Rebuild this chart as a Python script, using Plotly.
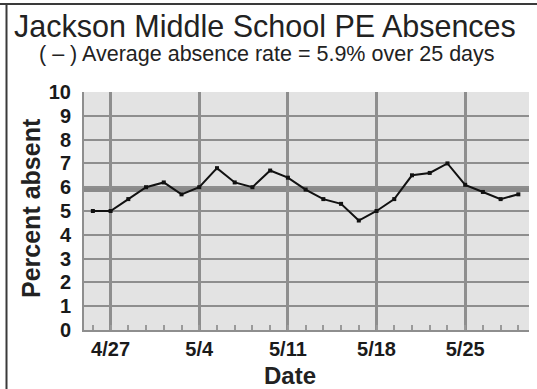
import plotly.graph_objects as go

# School days (Mon-Fri) covered by the survey
dates = ["4/24", "4/27", "4/28", "4/29", "4/30", "5/1",
         "5/4", "5/5", "5/6", "5/7", "5/8",
         "5/11", "5/12", "5/13", "5/14", "5/15",
         "5/18", "5/19", "5/20", "5/21", "5/22",
         "5/25", "5/26", "5/27", "5/28"]
absent_pct = [5.0, 5.0, 5.5, 6.0, 6.2, 5.7,
              6.0, 6.8, 6.2, 6.0, 6.7,
              6.4, 5.9, 5.5, 5.3, 4.6,
              5.0, 5.5, 6.5, 6.6, 7.0,
              6.1, 5.8, 5.5, 5.7]
week_labels = ["4/27", "5/4", "5/11", "5/18", "5/25"]
avg_rate = 5.9
n_days = len(dates)

x_idx = list(range(n_days))
week_idx = [dates.index(d) for d in week_labels]

W, H = 537, 389
ML, MR, MT, MB = 84, 8, 92, 59
pw, ph = W - ML - MR, H - MT - MB


def px(x):
    return (x - ML) / pw


def py(y):
    return (H - MB - y) / ph


fig = go.Figure()
fig.add_trace(go.Scatter(
    x=x_idx, y=absent_pct, mode="lines+markers",
    line=dict(color="#111111", width=2),
    marker=dict(symbol="square", size=4, color="#111111"),
    hoverinfo="skip", showlegend=False,
))

grid = "#8e8e8e"
tick_font = dict(family="Liberation Sans, Arial", size=20, color="#1a1a1a", weight="bold")

fig.update_layout(
    width=W, height=H,
    margin=dict(l=ML, r=MR, t=MT, b=MB),
    paper_bgcolor="white",
    plot_bgcolor="#e3e3e3",
    xaxis=dict(
        range=[-0.5, 24.6],
        tickmode="array", tickvals=week_idx, ticktext=week_labels,
        showgrid=True, gridcolor=grid, gridwidth=2.5,
        zeroline=False, showline=True, linecolor=grid, linewidth=2,
        ticks="", ticklabelstandoff=0,
        tickfont=tick_font,
        minor=dict(tickmode="linear", tick0=0, dtick=1, ticks="inside",
                   ticklen=5, tickwidth=1.5, tickcolor="#9a9a9a", showgrid=False),
    ),
    yaxis=dict(
        range=[0, 10], dtick=1,
        showgrid=True, gridcolor=grid, gridwidth=2,
        zeroline=False, showline=True, linecolor=grid, linewidth=2,
        ticks="", ticklabelstandoff=7,
        tickfont=tick_font,
    ),
    font=dict(family="Liberation Sans, Arial", color="#1a1a1a"),
)

# Average absence rate band
fig.add_shape(type="line", xref="paper", yref="y", x0=0, x1=1,
              y0=avg_rate, y1=avg_rate, layer="between",
              line=dict(color="#8a8a8a", width=5))

# Frame along the top and left edges
fig.add_shape(type="line", xref="paper", yref="paper",
              x0=px(-5), x1=px(W + 5), y0=py(4), y1=py(4),
              line=dict(color="#3a3a3a", width=2))
fig.add_shape(type="line", xref="paper", yref="paper",
              x0=px(6.5), x1=px(6.5), y0=py(3), y1=py(H + 5),
              line=dict(color="#3a3a3a", width=2))

fig.add_annotation(xref="paper", yref="paper", x=px(265), y=py(26),
                   text="Jackson Middle School PE Absences", showarrow=False,
                   xanchor="center", yanchor="middle",
                   font=dict(family="Liberation Sans, Arial", size=30.5, color="#222222"))
fig.add_annotation(xref="paper", yref="paper", x=px(267), y=py(54),
                   text=f"( \u2013 ) Average absence rate = {avg_rate}% over {n_days} days",
                   showarrow=False, xanchor="center", yanchor="middle",
                   font=dict(family="Liberation Sans, Arial", size=21.5, color="#222222"))
fig.add_annotation(xref="paper", yref="paper", x=px(31), y=py(208),
                   text="Percent absent", showarrow=False, textangle=-90,
                   xanchor="center", yanchor="middle",
                   font=dict(family="Liberation Sans, Arial", size=25, color="#222222", weight="bold"))
fig.add_annotation(xref="paper", yref="paper", x=px(290), y=py(375),
                   text="Date", showarrow=False,
                   xanchor="center", yanchor="middle",
                   font=dict(family="Liberation Sans, Arial", size=24, color="#222222", weight="bold"))

fig.write_html("out.html")
